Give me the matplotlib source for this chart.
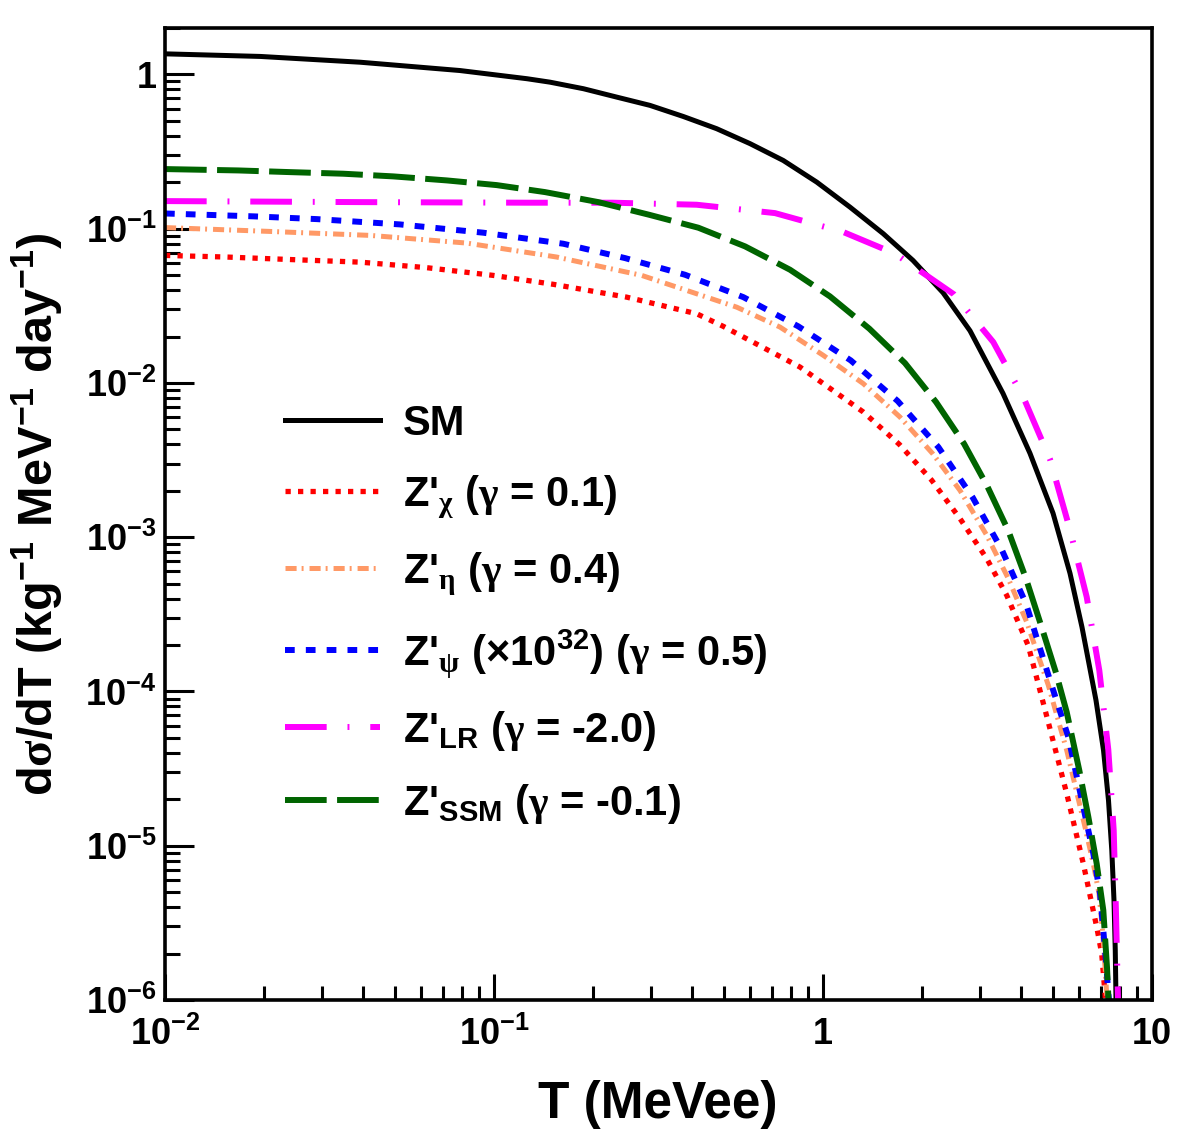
import numpy as np
from matplotlib import pyplot as plt
from matplotlib.ticker import LogLocator, FuncFormatter, NullFormatter

# values (T in MeVee, dsigma/dT in kg^-1 MeV^-1 day^-1)
T_sm = [0.01, 0.0195, 0.0392, 0.0788, 0.126, 0.148, 0.187, 0.236, 0.298, 0.376, 0.475, 0.600, 0.757, 0.957,
        1.208, 1.525, 1.877, 2.316, 2.798, 3.524, 4.257, 5.003, 5.634, 6.127, 6.757, 7.122, 7.375, 7.547, 7.664,
        7.733, 7.773]
sm = [1.36, 1.308, 1.20, 1.06, 0.938, 0.891, 0.808, 0.713, 0.630, 0.534, 0.445, 0.356, 0.277, 0.2005, 0.138,
      0.0928, 0.0623, 0.0385, 0.0218, 8.56e-3, 3.50e-3, 1.43e-3, 5.83e-4, 2.61e-4, 8.77e-5, 4.16e-5, 1.97e-5,
      9.35e-6, 4.43e-6, 2.10e-6, 1.0e-6]

T_chi = [0.01, 0.0154, 0.02455, 0.0392, 0.0624, 0.0995, 0.1514, 0.2531, 0.4131, 0.4977, 0.8513, 1.326, 1.706,
         2.140, 2.609, 3.145, 3.618, 4.207, 4.839, 5.505, 6.183, 6.790, 7.032, 7.197, 7.22]
chi = [0.0671, 0.0655, 0.0630, 0.0607, 0.0559, 0.0498, 0.0436, 0.0360, 0.0281, 0.02327, 0.01268, 6.48e-3,
       4.00e-3, 2.34e-3, 1.32e-3, 7.27e-4, 4.20e-4, 1.98e-4, 6.32e-5, 2.18e-5, 7.66e-6, 2.98e-6, 2.0e-6,
       1.10e-6, 1.0e-6]

T_eta = [0.01, 0.02085, 0.04198, 0.0826, 0.1551, 0.2812, 0.5467, 0.7401, 1.002, 1.326, 1.714, 2.155, 2.609,
         3.145, 3.659, 4.160, 4.839, 5.505, 6.258, 6.631, 6.901, 7.071, 7.211, 7.298]
eta = [0.1017, 0.0960, 0.0905, 0.0807, 0.0655, 0.0498, 0.0310, 0.02303, 0.01510, 9.90e-3, 6.01e-3, 3.48e-3,
       2.01e-3, 1.03e-3, 5.39e-4, 2.82e-4, 1.10e-4, 4.16e-5, 1.32e-5, 7.66e-6, 4.90e-6, 2.83e-6, 1.56e-6, 1.0e-6]

T_psi = [0.01, 0.01868, 0.02891, 0.05179, 0.0928, 0.1624, 0.2501, 0.3806, 0.5727, 0.8413, 1.214, 1.687, 2.242,
         2.851, 3.493, 4.140, 4.898, 5.567, 6.183, 6.631, 6.950, 7.112, 7.283, 7.365, 7.40]
psi = [0.1255, 0.1202, 0.1154, 0.1066, 0.0942, 0.0799, 0.0645, 0.0503, 0.0360, 0.02327, 0.01401, 7.63e-3,
       3.84e-3, 1.81e-3, 8.31e-4, 3.71e-4, 1.18e-4, 5.07e-5, 1.78e-5, 8.90e-6, 4.90e-6, 2.83e-6, 1.56e-6,
       1.10e-6, 1.0e-6]

T_lr = [0.01, 0.0392, 0.126, 0.2296, 0.4131, 0.7147, 1.153, 1.655, 2.502, 3.293, 4.082, 4.898, 5.606, 6.332,
        6.916, 7.365, 7.649, 7.773, 7.883]
lr = [0.151, 0.1487, 0.1474, 0.1474, 0.1430, 0.1262, 0.0951, 0.0689, 0.0375, 0.0184, 7.91e-3, 3.20e-3, 1.16e-3,
      4.10e-4, 1.37e-4, 4.20e-5, 1.26e-5, 3.64e-6, 1.0e-6]

T_ssm = [0.01, 0.0167, 0.02399, 0.03483, 0.04943, 0.07181, 0.1019, 0.1429, 0.2075, 0.2958, 0.4178, 0.5795,
         0.7938, 1.050, 1.383, 1.775, 2.206, 2.683, 3.158, 3.659, 4.140, 4.599, 5.108, 5.505, 6.012, 6.404,
         6.790, 7.112, 7.298, 7.375]
ssm = [0.2435, 0.2386, 0.2327, 0.2272, 0.2183, 0.2056, 0.1917, 0.1727, 0.1487, 0.1232, 0.1015, 0.0768, 0.0542,
       0.0364, 0.02248, 0.01345, 7.52e-3, 4.04e-3, 2.14e-3, 1.10e-3, 5.39e-4, 2.69e-4, 1.32e-4, 7.35e-5,
       3.08e-5, 1.54e-5, 7.66e-6, 3.82e-6, 1.63e-6, 1.0e-6]

labels = ['SM',
          r"Z'$_{\mathsf{\chi}}$ ($\mathsf{\gamma}$ = 0.1)",
          r"Z'$_{\mathsf{\eta}}$ ($\mathsf{\gamma}$ = 0.4)",
          r"Z'$_{\mathsf{\psi}}$ (×10$^{32}$) ($\mathsf{\gamma}$ = 0.5)",
          r"Z'$_{LR}$ ($\mathsf{\gamma}$ = -2.0)",
          r"Z'$_{SSM}$ ($\mathsf{\gamma}$ = -0.1)"]

plt.rcParams['font.family'] = ['Liberation Sans', 'DejaVu Sans']
plt.rcParams['font.weight'] = 'bold'
plt.rcParams['mathtext.fontset'] = 'custom'
plt.rcParams['mathtext.rm'] = 'Liberation Sans:bold'
plt.rcParams['mathtext.bf'] = 'Liberation Sans:bold'
plt.rcParams['mathtext.it'] = 'Liberation Sans:bold:italic'
plt.rcParams['mathtext.sf'] = 'Liberation Serif'
plt.rcParams['mathtext.default'] = 'regular'
plt.rcParams['lines.scale_dashes'] = False


def log_label(v, pos):
    e = int(round(np.log10(v)))
    if e == 0:
        return '1'
    if e == 1:
        return '10'
    return r'$10^{%d}$' % e


fig = plt.figure(figsize=(11.82, 11.38), dpi=100)
ax = fig.add_axes([165 / 1182, 138 / 1138, 987 / 1182, 972 / 1138])

ax.plot(T_sm, sm, color='black', lw=3.6, label=labels[0])
ax.plot(T_chi, chi, color='#ff0000', lw=3.8, dashes=(3.8, 5.2), label=labels[1])
ax.plot(T_eta, eta, color='#ff9966', lw=3.6, dashes=(8, 3.6, 1.4, 4.3), label=labels[2])
ax.plot(T_psi, psi, color='#0000ff', lw=4.3, dashes=(7, 8), label=labels[3])
ax.plot(T_lr, lr, color='#ff00ff', lw=4.3, dashes=(30, 15, 1.4, 15), label=labels[4])
ax.plot(T_ssm, ssm, color='#006400', lw=4.3, dashes=(30, 7.5), label=labels[5])

ax.set_xscale('log')
ax.set_yscale('log')
ax.set_xlim(0.01, 10)
ax.set_ylim(1e-6, 2.0)

for side in ['left', 'right', 'top', 'bottom']:
    ax.spines[side].set_linewidth(2.6)

ax.xaxis.set_major_locator(LogLocator(base=10, numticks=10))
ax.xaxis.set_minor_locator(LogLocator(base=10, subs=np.arange(2, 10), numticks=20))
ax.yaxis.set_major_locator(LogLocator(base=10, numticks=10))
ax.yaxis.set_minor_locator(LogLocator(base=10, subs=np.arange(2, 10), numticks=20))
ax.xaxis.set_major_formatter(FuncFormatter(log_label))
ax.yaxis.set_major_formatter(FuncFormatter(log_label))
ax.xaxis.set_minor_formatter(NullFormatter())
ax.yaxis.set_minor_formatter(NullFormatter())

ax.tick_params(axis='both', which='both', direction='in', top=False, right=False, width=2.2, labelsize=26)
ax.tick_params(axis='y', which='major', length=21, pad=6)
ax.tick_params(axis='y', which='minor', length=11)
ax.tick_params(axis='x', which='major', length=19, pad=12)
ax.tick_params(axis='x', which='minor', length=10)

ax.set_xlabel('T (MeVee)', fontsize=37, fontweight='bold', va='baseline')
ax.xaxis.set_label_coords(0.4995, -0.1214)
ax.set_ylabel(r'd$\mathsf{\sigma}$/dT (kg$^{-1}$ MeV$^{-1}$ day$^{-1}$)', fontsize=35, fontweight='bold',
              va='center')
ax.yaxis.set_label_coords(-0.1297, 0.5)

ax.legend(loc='upper left', bbox_to_anchor=(285 / 1182, 1 - 404 / 1138), bbox_transform=fig.transFigure,
          frameon=False, fontsize=30, handlelength=2.28, handletextpad=0.55, labelspacing=0.7,
          borderpad=0, borderaxespad=0)

fig.savefig('out.png', dpi=100)
plt.close()
